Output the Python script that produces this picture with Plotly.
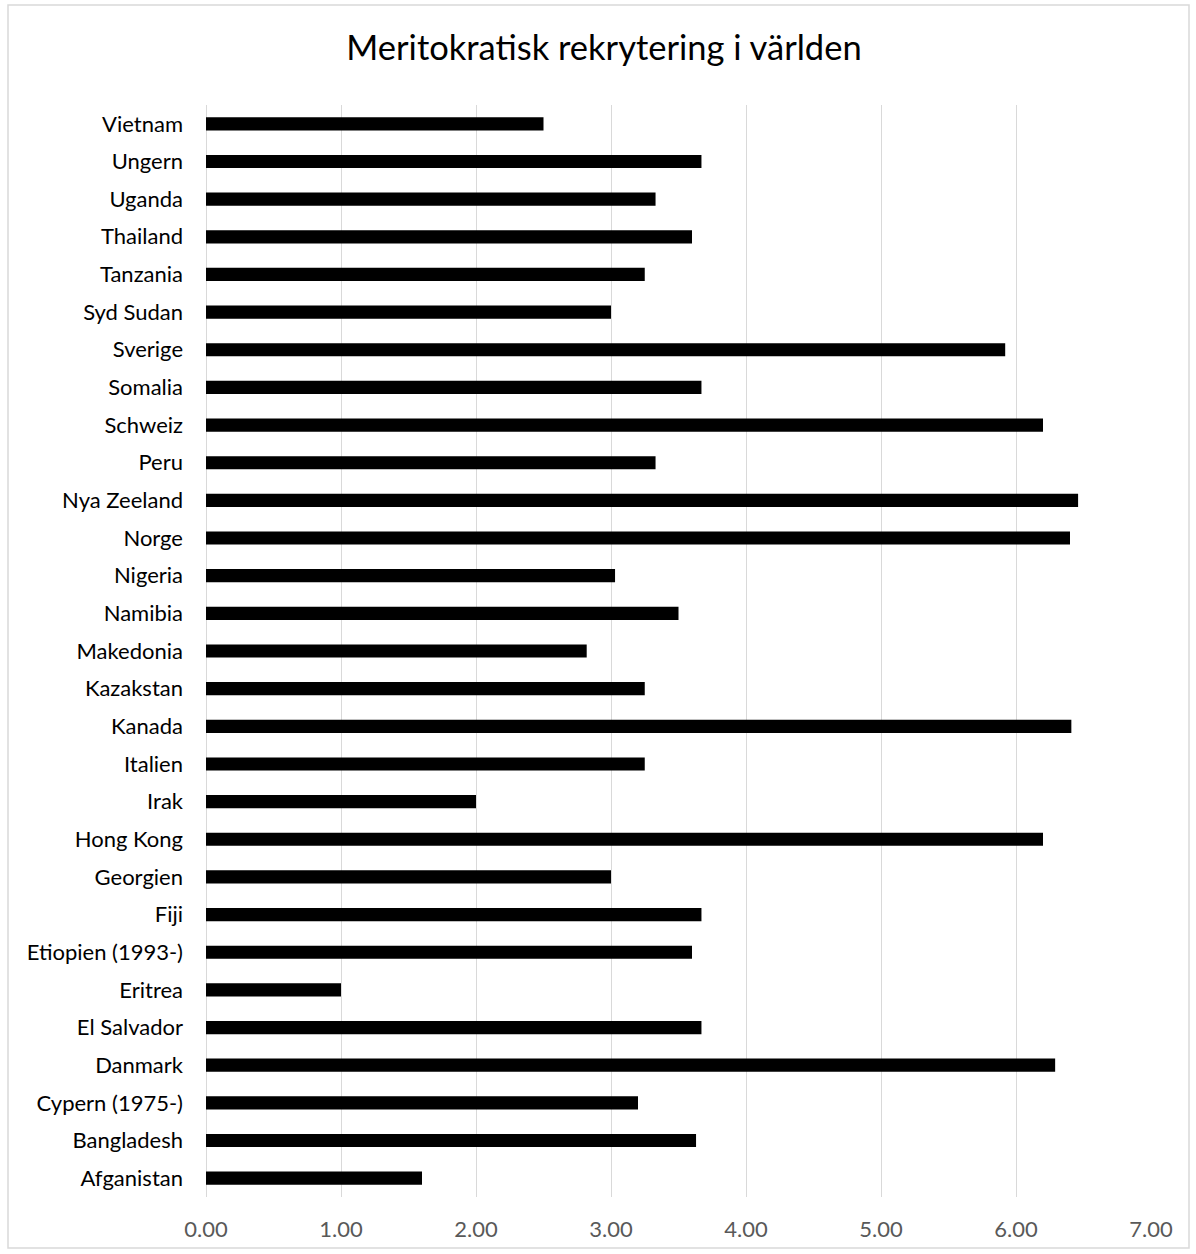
import plotly.graph_objects as go

# Countries (bottom to top) and their meritocratic recruitment scores
countries = [
    "Afganistan", "Bangladesh", "Cypern (1975-)", "Danmark", "El Salvador",
    "Eritrea", "Etiopien (1993-)", "Fiji", "Georgien", "Hong Kong",
    "Irak", "Italien", "Kanada", "Kazakstan", "Makedonia",
    "Namibia", "Nigeria", "Norge", "Nya Zeeland", "Peru",
    "Schweiz", "Somalia", "Sverige", "Syd Sudan", "Tanzania",
    "Thailand", "Uganda", "Ungern", "Vietnam",
]
scores = [
    1.60, 3.63, 3.20, 6.29, 3.67,
    1.00, 3.60, 3.67, 3.00, 6.20,
    2.00, 3.25, 6.41, 3.25, 2.82,
    3.50, 3.03, 6.40, 6.46, 3.33,
    6.20, 3.67, 5.92, 3.00, 3.25,
    3.60, 3.33, 3.67, 2.50,
]
x_ticks = [0, 1, 2, 3, 4, 5, 6, 7]
x_tick_text = ["0.00", "1.00", "2.00", "3.00", "4.00", "5.00", "6.00", "7.00"]
title_text = "Meritokratisk rekrytering i världen"

W, H = 1196, 1254
ML, MR, MT, MB = 206, 45, 105, 57
PW, PH = W - ML - MR, H - MT - MB

FONT = "Lato"

fig = go.Figure(
    go.Bar(
        x=scores,
        y=countries,
        orientation="h",
        marker=dict(color="#000000", line=dict(width=0)),
        hoverinfo="x+y",
    )
)

# Light grey frame around the whole chart area
def px_to_paper_x(px):
    return (px - ML) / PW

def px_to_paper_y(py):
    return (H - MB - py) / PH

fig.add_shape(
    type="rect", xref="paper", yref="paper",
    x0=px_to_paper_x(8), x1=px_to_paper_x(1189),
    y0=px_to_paper_y(1248), y1=px_to_paper_y(5),
    line=dict(color="#d9d9d9", width=1.5),
    fillcolor="rgba(0,0,0,0)", layer="below",
)

fig.update_layout(
    width=W, height=H,
    margin=dict(l=ML, r=MR, t=MT, b=MB, pad=0),
    paper_bgcolor="white", plot_bgcolor="white",
    bargap=0.65,
    showlegend=False,
    title=dict(
        text=title_text,
        x=604 / W, xanchor="center",
        y=1 - 48 / H, yanchor="middle",
        font=dict(family=FONT, size=34.5, color="#000000"),
    ),
    xaxis=dict(
        range=[0, 7],
        tickmode="array", tickvals=x_ticks, ticktext=x_tick_text,
        showgrid=True, gridcolor="#d9d9d9", gridwidth=1,
        zeroline=True, zerolinecolor="#d9d9d9", zerolinewidth=1,
        showline=False, ticks="",
        ticklabelstandoff=17,
        tickfont=dict(family=FONT, size=22, color="#595959"),
        fixedrange=True,
    ),
    yaxis=dict(
        type="category",
        categoryorder="array", categoryarray=countries,
        showgrid=False, zeroline=False, showline=False, ticks="",
        ticklabelstandoff=22,
        tickfont=dict(family=FONT, size=22, color="#000000"),
        fixedrange=True,
    ),
)

fig.write_html("out.html")
